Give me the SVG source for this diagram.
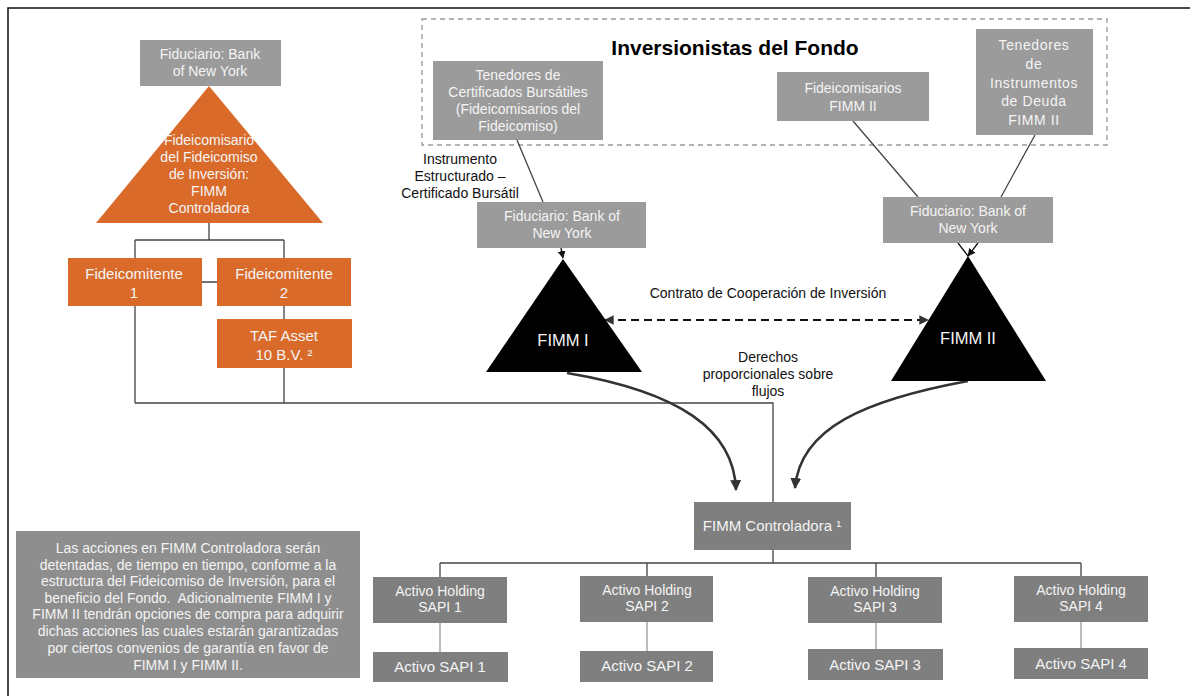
<svg xmlns="http://www.w3.org/2000/svg" width="1190" height="696" viewBox="0 0 1190 696">
<style>
text{font-family:"Liberation Sans",Arial,sans-serif;font-size:14px;text-anchor:middle}
.lt{fill:#9b9b9b}
.dk{fill:#7f7f7f}
.or{fill:#d96a2a}
.wt{fill:#f4f4f4}
.bk{fill:#111}
.f15{font-size:15px}
.ln{stroke:#444;stroke-width:1.3;fill:none}
.ln2{stroke:#999;stroke-width:1.3;fill:none}
.th{stroke:#333;stroke-width:2.5;fill:none}
</style>
<defs>
<marker id="ah" viewBox="0 0 10 10" refX="9" refY="5" markerWidth="4.4" markerHeight="4.4" orient="auto-start-reverse"><path d="M0,0L10,5L0,10z" fill="#333"/></marker>
<marker id="as" viewBox="0 0 10 10" refX="9" refY="5" markerWidth="6" markerHeight="6" orient="auto"><path d="M0,0L10,5L0,10z" fill="#111"/></marker>
</defs>
<rect width="1190" height="696" fill="#fff"/>
<rect x="8" y="8" width="1200" height="700" fill="none" stroke="#111" stroke-width="1.5"/>
<rect x="422" y="19" width="685" height="126" fill="none" stroke="#999" stroke-width="1.3" stroke-dasharray="5,4"/>
<text x="735" y="55" style="font-size:21px;font-weight:bold" fill="#000">Inversionistas del Fondo</text>

<g id="connectors">
<path class="ln" d="M209,223V240M135,240H284M135,240V258M284,240V258M202,282H217M284,306V319M135,306V403M284,368V403M135,403H773V502M773,550V563M440,563H1081M440,563V577M647,563V576M876,563V577M1081,563V576"/>
<path class="ln2" d="M440,623V652M647,622V651M876,623V649M1081,622V648"/>
<path class="ln" stroke="#222" d="M517,140L543,202M853,121L918,197M1035,135L1001,197"/>
<path d="M561,248L563,258" stroke="#111" stroke-width="1.3" marker-end="url(#as)"/>
<path d="M958,243L968,256M978,243L968,256" stroke="#111" stroke-width="1.3" marker-end="url(#as)"/>
<path class="th" d="M567,373C680,392 734,430 736,490" marker-end="url(#ah)"/>
<path class="th" d="M968,381C865,400 800,428 795,488" marker-end="url(#ah)"/>
<path d="M605,320H928" stroke="#111" stroke-width="2.2" stroke-dasharray="8,5" fill="none" marker-start="url(#ah)" marker-end="url(#ah)"/>
</g>

<g id="fid-top"><rect class="lt" x="140" y="40" width="141" height="46"/><text class="wt" x="210" y="59">Fiduciario: Bank</text><text class="wt" x="210" y="76">of New York</text></g>
<g id="tri-controladora"><path class="or" d="M209,86L323,223H96z"/>
<text class="wt" x="209" y="145">Fideicomisario</text><text class="wt" x="209" y="162">del Fideicomiso</text><text class="wt" x="209" y="179">de Inversión:</text><text class="wt" x="209" y="196">FIMM</text><text class="wt" x="209" y="213">Controladora</text></g>
<g id="fide1"><rect class="or" x="68" y="258" width="134" height="48"/><text class="wt f15" x="134" y="279">Fideicomitente</text><text class="wt f15" x="134" y="298">1</text></g>
<g id="fide2"><rect class="or" x="217" y="258" width="134" height="48"/><text class="wt f15" x="284" y="279">Fideicomitente</text><text class="wt f15" x="284" y="298">2</text></g>
<g id="taf"><rect class="or" x="217" y="319" width="135" height="49"/><text class="wt f15" x="284" y="341">TAF Asset</text><text class="wt f15" x="284" y="360">10 B.V. ²</text></g>

<g id="tenedores-cb"><rect class="lt" x="433" y="61" width="170" height="79"/><text class="wt" x="518" y="80">Tenedores de</text><text class="wt" x="518" y="97">Certificados Bursátiles</text><text class="wt" x="518" y="114">(Fideicomisarios del</text><text class="wt" x="518" y="131">Fideicomiso)</text></g>
<g id="lbl-instr"><text class="bk" x="460" y="164">Instrumento</text><text class="bk" x="460" y="181">Estructurado –</text><text class="bk" x="460" y="198">Certificado Bursátil</text></g>
<g id="fid-1"><rect class="lt" x="477" y="202" width="169" height="46"/><text class="wt" x="562" y="221">Fiduciario: Bank of</text><text class="wt" x="562" y="238">New York</text></g>
<g id="fimm1"><path d="M563,259L642,372H486z" fill="#000"/><text class="wt" x="563" y="346" style="font-size:16.5px">FIMM I</text></g>

<g id="fideicomisarios2"><rect class="lt" x="777" y="72" width="152" height="49"/><text class="wt" x="853" y="93">Fideicomisarios</text><text class="wt" x="853" y="111">FIMM II</text></g>
<g id="tenedores-deuda"><rect class="lt" x="976" y="29" width="117" height="106"/><g style="letter-spacing:0.6px"><text class="wt" x="1034" y="50">Tenedores</text><text class="wt" x="1034" y="69">de</text><text class="wt" x="1034" y="88">Instrumentos</text><text class="wt" x="1034" y="106">de Deuda</text><text class="wt" x="1034" y="125">FIMM II</text></g></g>
<g id="fid-2"><rect class="lt" x="883" y="197" width="170" height="46"/><text class="wt" x="968" y="216">Fiduciario: Bank of</text><text class="wt" x="968" y="233">New York</text></g>
<g id="fimm2"><path d="M968,256L1046,381H891z" fill="#000"/><text class="wt" x="968" y="344" style="font-size:16.5px">FIMM II</text></g>

<g id="lbl-contrato"><text class="bk" x="768" y="298">Contrato de Cooperación de Inversión</text></g>
<g id="lbl-derechos"><text class="bk" x="768" y="362">Derechos</text><text class="bk" x="768" y="379">proporcionales sobre</text><text class="bk" x="768" y="396">flujos</text></g>

<g id="controladora"><rect class="dk" x="694" y="502" width="157" height="48"/><text class="wt f15" x="772" y="531">FIMM Controladora ¹</text></g>

<g id="h1"><rect class="dk" x="373" y="577" width="134" height="46"/><text class="wt" x="440" y="596">Activo Holding</text><text class="wt" x="440" y="612">SAPI 1</text></g>
<g id="h2"><rect class="dk" x="580" y="576" width="133" height="46"/><text class="wt" x="647" y="595">Activo Holding</text><text class="wt" x="647" y="611">SAPI 2</text></g>
<g id="h3"><rect class="dk" x="808" y="577" width="134" height="46"/><text class="wt" x="875" y="596">Activo Holding</text><text class="wt" x="875" y="612">SAPI 3</text></g>
<g id="h4"><rect class="dk" x="1014" y="576" width="134" height="46"/><text class="wt" x="1081" y="595">Activo Holding</text><text class="wt" x="1081" y="611">SAPI 4</text></g>
<g id="s1"><rect class="dk" x="373" y="652" width="135" height="30"/><text class="wt f15" x="440" y="672">Activo SAPI 1</text></g>
<g id="s2"><rect class="dk" x="580" y="651" width="133" height="31"/><text class="wt f15" x="647" y="671">Activo SAPI 2</text></g>
<g id="s3"><rect class="dk" x="808" y="649" width="135" height="31"/><text class="wt f15" x="875" y="670">Activo SAPI 3</text></g>
<g id="s4"><rect class="dk" x="1014" y="648" width="134" height="31"/><text class="wt f15" x="1081" y="669">Activo SAPI 4</text></g>

<g id="nota"><rect x="16" y="531" width="344" height="147" fill="#8e8e8e"/>
<text class="wt" x="188" y="553">Las acciones en FIMM Controladora serán</text>
<text class="wt" x="188" y="570">detentadas, de tiempo en tiempo, conforme a la</text>
<text class="wt" x="188" y="586">estructura del Fideicomiso de Inversión, para el</text>
<text class="wt" x="188" y="603" xml:space="preserve">beneficio del Fondo.  Adicionalmente FIMM I y</text>
<text class="wt" x="188" y="619">FIMM II tendrán opciones de compra para adquirir</text>
<text class="wt" x="188" y="636">dichas acciones las cuales estarán garantizadas</text>
<text class="wt" x="188" y="653">por ciertos convenios de garantía en favor de</text>
<text class="wt" x="188" y="670">FIMM I y FIMM II.</text></g>
</svg>
